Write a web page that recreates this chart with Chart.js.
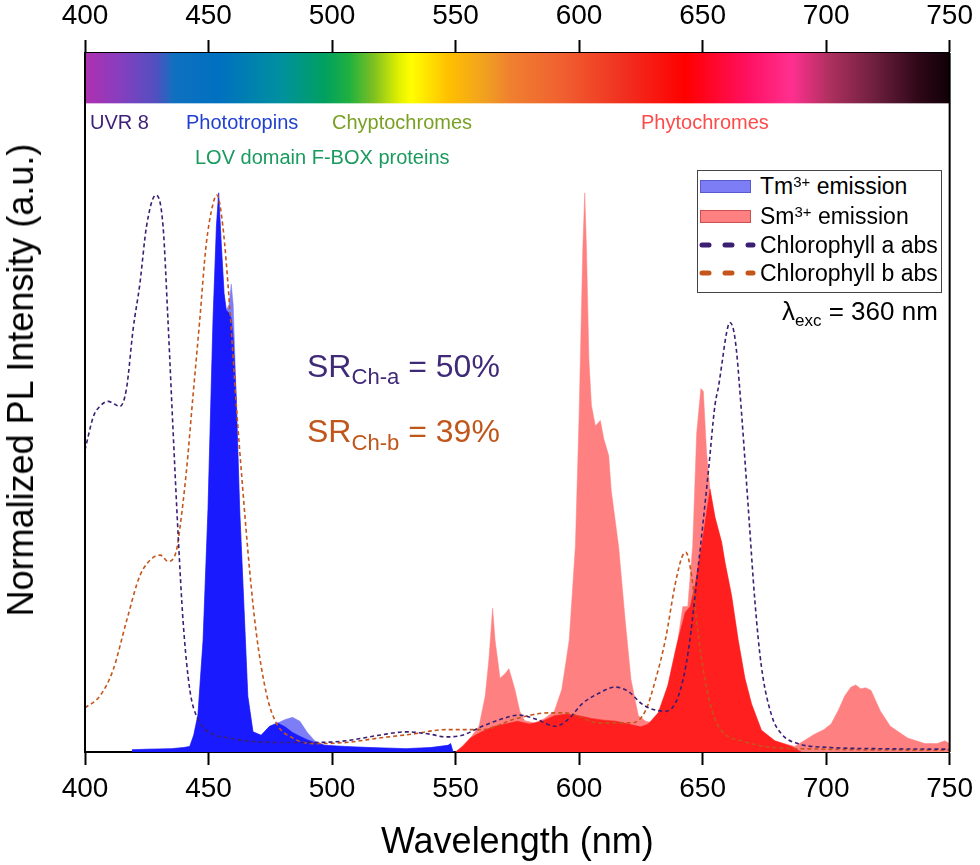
<!DOCTYPE html>
<html><head><meta charset="utf-8">
<script src="https://cdn.jsdelivr.net/npm/chart.js@4/dist/chart.umd.min.js"></script>
<style>
html,body{margin:0;padding:0;background:#fff;}
#wrap{position:relative;width:980px;height:865px;font-family:"Liberation Sans",Arial,sans-serif;overflow:hidden;}
#c{position:absolute;left:0;top:0;}
.t{position:absolute;white-space:nowrap;line-height:1;}
.sup{position:relative;top:-0.5em;font-size:0.65em;}
.sub{position:relative;font-size:0.69em;}
</style></head><body>
<div id="wrap">
<canvas id="c" width="980" height="865"></canvas>

<div class="t" style="left:21px;top:380px;font-size:36px;color:#000;transform:translate(-50%,-50%) rotate(-90deg);">Normalized PL Intensity (a.u.)</div>

<div class="t" style="left:90px;top:112px;font-size:20px;color:#3d1f78;">UVR 8</div>
<div class="t" style="left:186px;top:112px;font-size:20px;color:#1f3fd0;">Phototropins</div>
<div class="t" style="left:332px;top:112px;font-size:20px;color:#7aa023;">Chyptochromes</div>
<div class="t" style="left:641px;top:112px;font-size:20px;color:#ff4a4a;">Phytochromes</div>
<div class="t" style="left:195px;top:147px;font-size:20px;color:#1a9a5e;">LOV domain F-BOX proteins</div>

<div class="t" style="left:307px;top:350px;font-size:32px;color:#3f2a78;">SR<span class="sub" style="top:7px;">Ch-a</span> = 50%</div>
<div class="t" style="left:307px;top:415px;font-size:32px;color:#c0561a;">SR<span class="sub" style="top:8px;">Ch-b</span> = 39%</div>

<div style="position:absolute;left:697px;top:170px;width:245px;height:123px;border:1px solid #444;box-sizing:border-box;background:#fff;"></div>
<div style="position:absolute;left:700px;top:180px;width:51px;height:13px;background:#7d7df5;border:1px solid #5a5ad0;box-sizing:border-box;"></div>
<div style="position:absolute;left:700px;top:210px;width:51px;height:13px;background:#ff8080;border:1px solid #c85050;box-sizing:border-box;"></div>
<svg style="position:absolute;left:697px;top:235px;" width="62" height="45">
  <line x1="5" y1="10" x2="56" y2="10" stroke="#3b1f73" stroke-width="5" stroke-linecap="round" stroke-dasharray="7 16"/>
  <line x1="5" y1="38" x2="56" y2="38" stroke="#c4561c" stroke-width="5" stroke-linecap="round" stroke-dasharray="7 16"/>
</svg>
<div class="t" style="left:760px;top:175px;font-size:23px;color:#000;">Tm<span class="sup">3+</span> emission</div>
<div class="t" style="left:760px;top:205px;font-size:23px;color:#000;">Sm<span class="sup">3+</span> emission</div>
<div class="t" style="left:760px;top:234px;font-size:23px;color:#000;">Chlorophyll a abs</div>
<div class="t" style="left:760px;top:262px;font-size:23px;color:#000;">Chlorophyll b abs</div>

<div class="t" style="left:782px;top:298px;font-size:26px;color:#000;">λ<span class="sub" style="top:6px;font-size:17px;">exc</span> = 360 nm</div>
</div>
<script>
// ---------- data (wavelength in nm, normalized intensity) ----------
const tickValues = [400,450,500,550,600,650,700,750];

const chlAWl  = [400,403.4,406,409.4,412,414.1,416.8,419.5,422.2,424.9,428.7,431.6,433.6,435.7,437.7,439.7,442.4,445.7,451.8,458.5,465,480,492,505.6,519,530,539.5,546,552.7,560.8,568,575.6,583,590.4,596,601.2,608,614.6,620,625.4,630,634.9,640.2,644.2,648.3,652.3,655,656.5,658,659.5,661,662.5,663.7,665.8,668.5,671.2,673.8,677.9,682,688.6,702,720,750];
const chlAVal = [0.54,0.60,0.618,0.627,0.622,0.618,0.65,0.757,0.837,0.94,0.996,0.94,0.77,0.57,0.388,0.234,0.112,0.059,0.032,0.025,0.02,0.017,0.017,0.02,0.03,0.036,0.032,0.027,0.03,0.046,0.058,0.066,0.058,0.046,0.06,0.086,0.105,0.116,0.108,0.086,0.076,0.073,0.1,0.18,0.334,0.5,0.62,0.655,0.70,0.745,0.768,0.755,0.718,0.604,0.436,0.268,0.153,0.066,0.032,0.015,0.008,0.006,0.005];

const chlBWl  = [400,406,411.4,416.8,422.2,427.6,430.5,433.6,437,438.4,441,443.7,446.4,449,451.8,453.4,455.8,458.5,461.2,463.9,466.6,469.3,473.4,477.4,484.1,492,505.6,519,532.5,546,560.8,574,587.7,594.4,608,621.4,626.8,630.8,634.9,638.9,641.6,643.2,645.6,647.6,649.6,652.3,655,659,665.8,675,700,750];
const chlBVal = [0.079,0.1,0.147,0.234,0.315,0.348,0.352,0.341,0.36,0.40,0.50,0.636,0.77,0.905,0.98,0.996,0.94,0.80,0.623,0.468,0.327,0.214,0.105,0.052,0.025,0.015,0.017,0.025,0.032,0.04,0.04,0.059,0.07,0.07,0.052,0.052,0.073,0.127,0.2,0.3,0.348,0.357,0.314,0.234,0.166,0.1,0.059,0.032,0.02,0.01,0.005,0.003];

const tmWl  = [419,425,435,440,442.4,444,445.7,447.8,449.8,451.8,453.2,454.1,455.2,456.3,457.2,458.3,459.2,460,461.2,462.6,464.6,465.9,468,471.3,474.7,478,481,484,487,490,493,497,505,515,530,540,547,548,549];
const tmVal = [0.004,0.005,0.006,0.008,0.01,0.03,0.066,0.2,0.436,0.77,0.94,1.0,0.905,0.82,0.79,0.80,0.837,0.8,0.636,0.436,0.234,0.1,0.036,0.03,0.046,0.052,0.058,0.062,0.055,0.035,0.02,0.012,0.01,0.008,0.006,0.008,0.012,0.015,0];
const tmOverlapVal = [0.004,0.005,0.006,0.008,0.01,0.03,0.066,0.2,0.436,0.77,0.94,1.0,0.905,0.82,0.79,0.785,0.775,0.74,0.636,0.436,0.234,0.1,0.036,0.03,0.046,0.052,0.045,0.035,0.028,0.022,0.017,0.012,0.01,0.008,0.006,0.008,0.012,0.015,0];

const smWl  = [550,553,556,559.5,562,563.5,565,566,568,570,571.6,574,576,578,582,586,590,593,596,598.5,600,601.5,602.3,603,604,605,606.6,608.6,610,612,613,616,618.7,621,624,627,630,633,636,638.9,640,642,644,646,647.6,649.3,650.3,651.6,653,655,657.7,659,661.7,664.4,667.1,669.8,673.8,679.2,684,687.3,691,695.4,699,702,705,707.5,710,712,714,716,718.2,722,726,733,740,745,748,750];
const smVal = [0,0.012,0.025,0.046,0.1,0.166,0.257,0.2,0.132,0.14,0.149,0.112,0.073,0.056,0.052,0.06,0.073,0.112,0.2,0.368,0.6,0.9,1.0,0.9,0.7,0.62,0.583,0.593,0.56,0.53,0.468,0.368,0.234,0.13,0.065,0.055,0.052,0.07,0.12,0.18,0.2,0.26,0.26,0.37,0.57,0.65,0.645,0.536,0.47,0.42,0.375,0.34,0.28,0.2,0.132,0.086,0.039,0.02,0.014,0.01,0.02,0.032,0.04,0.05,0.075,0.1,0.116,0.12,0.113,0.115,0.11,0.073,0.046,0.025,0.015,0.015,0.02,0.015];

const smOverlapWl  = [550,553,556,560,565,570,575,580,585,590,595,600,605,610,615,620,625,628,632,636,640,643,645,647,650,652,653,655,657.7,659,661.7,664.4,667.1,669.8,673.8,679.2,686,690];
const smOverlapVal = [0,0.01,0.025,0.035,0.045,0.05,0.055,0.05,0.055,0.065,0.068,0.065,0.06,0.057,0.055,0.05,0.045,0.05,0.07,0.12,0.2,0.25,0.26,0.3,0.38,0.44,0.47,0.42,0.375,0.34,0.28,0.2,0.132,0.086,0.039,0.02,0.01,0];

// visible-spectrum colour bar
const spectrumNm = [400,416,429,436,454,479,497,507,517,527,532,547,562,572,593,618,643,668,686,701,719,737,750];
const spectrumColors = ['#b030b0','#8040c0','#5050c0','#1070c0','#0070c0','#0090a0','#00a060','#20b040','#80c020','#e0f000','#ffff00','#ffc000','#f0a020','#f08030','#f06030','#f03020','#ff0000','#ff1060','#ff3090','#b03060','#702040','#300818','#100008'];
const spectrumBand = [1.16, 1.25];

function pts(xs, ys){ return xs.map((x,i)=>({x:x, y:ys[i]})); }

const spectrumPlugin = {
  id:'spectrum',
  beforeDatasetsDraw(chart){
    const {ctx, scales:{x,y}} = chart;
    const x0 = x.getPixelForValue(spectrumNm[0]);
    const x1 = x.getPixelForValue(spectrumNm[spectrumNm.length-1]);
    const g = ctx.createLinearGradient(x0,0,x1,0);
    spectrumNm.forEach((nm,i)=>g.addColorStop((nm-spectrumNm[0])/(spectrumNm[spectrumNm.length-1]-spectrumNm[0]), spectrumColors[i]));
    const yt = y.getPixelForValue(spectrumBand[1]);
    const yb = y.getPixelForValue(spectrumBand[0]);
    ctx.save();
    ctx.fillStyle = g;
    ctx.fillRect(x0, yt, x1-x0, yb-yt);
    ctx.restore();
  },
  afterDatasetsDraw(chart){
    const {ctx, chartArea:a} = chart;
    ctx.save();
    ctx.strokeStyle='#000'; ctx.lineWidth=2;
    ctx.beginPath();
    ctx.moveTo(a.left, a.top); ctx.lineTo(a.left, a.bottom);
    ctx.moveTo(a.right, a.top); ctx.lineTo(a.right, a.bottom);
    ctx.stroke();
    ctx.restore();
  }
};

const axisCommon = {
  type:'linear', min:400, max:750,
  ticks:{stepSize:50, color:'#000', font:{family:'"Liberation Sans", Arial, sans-serif', size:28}, padding:7, maxRotation:0, autoSkip:false},
  grid:{drawOnChartArea:false, drawTicks:true, tickLength:13, tickWidth:2, tickColor:'#000', color:'#000'},
  border:{display:true, color:'#000', width:2}
};

new Chart(document.getElementById('c'), {
  type:'line',
  data:{
    datasets:[
      {label:'Chlorophyll a abs', data:pts(chlAWl, chlAVal), borderColor:'#3b1f73', borderWidth:1.6, borderDash:[4,3], fill:false, pointRadius:0, cubicInterpolationMode:'monotone'},
      {label:'Chlorophyll b abs', data:pts(chlBWl, chlBVal), borderColor:'#c4561c', borderWidth:1.6, borderDash:[4,3], fill:false, pointRadius:0, cubicInterpolationMode:'monotone'},
      {label:'Tm3+ overlap', data:pts(tmWl, tmOverlapVal), borderColor:'#1a1aff', backgroundColor:'#1a1aff', borderWidth:0.5, fill:'origin', pointRadius:0, tension:0},
      {label:'Sm3+ overlap', data:pts(smOverlapWl, smOverlapVal), borderColor:'#ff1f1f', backgroundColor:'#ff1f1f', borderWidth:0.5, fill:'origin', pointRadius:0, tension:0},
      {label:'Tm3+ emission', data:pts(tmWl, tmVal), borderColor:'#7d7df5', backgroundColor:'#7d7df5', borderWidth:0.5, fill:'origin', pointRadius:0, tension:0},
      {label:'Sm3+ emission', data:pts(smWl, smVal), borderColor:'#ff8080', backgroundColor:'#ff8080', borderWidth:0.5, fill:'origin', pointRadius:0, tension:0}
    ]
  },
  options:{
    responsive:false, animation:false, devicePixelRatio:1,
    layout:{padding:{left:85, right:25, top:0, bottom:0}},
    plugins:{legend:{display:false}, tooltip:{enabled:false}},
    elements:{point:{radius:0}},
    scales:{
      x:Object.assign({}, axisCommon, {position:'bottom',
        title:{display:true, text:'Wavelength (nm)', color:'#000', font:{family:'"Liberation Sans", Arial, sans-serif', size:36}, padding:{top:0,bottom:0}},
        afterFit(s){ s.height = 113; }}),
      x2:Object.assign({}, axisCommon, {position:'top', axis:'x', afterFit(s){ s.height = 53; }}),
      y:{type:'linear', min:0, max:1.25, display:false}
    }
  },
  plugins:[spectrumPlugin]
});
</script>
</body></html>
